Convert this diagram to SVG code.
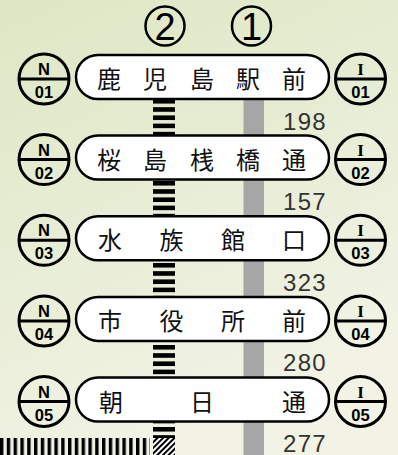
<svg xmlns="http://www.w3.org/2000/svg" width="398" height="455" viewBox="0 0 398 455">
<style>
.box{fill:#fff;stroke:#000;stroke-width:2.5}
.badge circle{fill:none;stroke:#000;stroke-width:3}
.badge line{stroke:#000;stroke-width:3}
.bl{font-family:"Liberation Sans",Arial,sans-serif;font-weight:bold;font-size:16.5px;text-anchor:middle;fill:#000}
.bi{font-family:"Liberation Serif","Times New Roman",serif;font-weight:bold;font-size:17px;text-anchor:middle;fill:#000}
.jp{font-family:"Noto Sans CJK JP",sans-serif;font-size:24px;text-anchor:middle;fill:#111}
.num{font-family:"Liberation Sans",Arial,sans-serif;font-size:24px;letter-spacing:1.3px;fill:#333}
.ln circle{fill:none;stroke:#000;stroke-width:2.5}
.ln text{font-family:"Liberation Sans",Arial,sans-serif;font-size:38px;text-anchor:middle;fill:#000}
</style>
<defs>
<linearGradient id="bg" x1="0" y1="0" x2="0.4" y2="1">
<stop offset="0" stop-color="#dde7c4"/>
<stop offset="1" stop-color="#f2f3e5"/>
</linearGradient>
<pattern id="ladder" patternUnits="userSpaceOnUse" x="153" y="181" width="22" height="8.2">
<rect width="22" height="4.6" fill="#000"/>
</pattern>
<pattern id="vstripe" patternUnits="userSpaceOnUse" x="0" y="0" width="6.8" height="20">
<rect width="3.4" height="20" fill="#000"/>
</pattern>
<pattern id="hatch" patternUnits="userSpaceOnUse" width="4" height="4" patternTransform="rotate(45)">
<rect width="2" height="4" fill="#000"/>
</pattern>
</defs>
<rect width="398" height="455" fill="url(#bg)"/>

<g id="connectors">
<rect x="243.5" y="97" width="20.5" height="358" fill="#a6a6a6"/>
<rect x="153" y="99" width="22" height="339" fill="url(#ladder)"/>
<rect x="0" y="438" width="150" height="17" fill="url(#vstripe)"/>
<rect x="153" y="438" width="22" height="17" fill="#fff"/>
<rect x="153" y="438" width="22" height="17" fill="url(#hatch)"/>
</g>

<g id="line2" class="ln"><circle cx="165" cy="26" r="19.5"/><text x="165" y="40">2</text></g>
<g id="line1" class="ln"><circle cx="251.5" cy="26" r="19.5"/><text x="251.5" y="40">1</text></g>

<g id="distances">
<text class="num" x="283" y="129.5">198</text>
<text class="num" x="283" y="210">157</text>
<text class="num" x="283" y="290.5">323</text>
<text class="num" x="283" y="371">280</text>
<text class="num" x="283" y="451.5">277</text>
</g>

<g id="station1">
<rect class="box" x="76" y="55" width="253" height="44" rx="22"/>
<text class="jp" y="88"><tspan x="109">鹿</tspan><tspan x="155">児</tspan><tspan x="202">島</tspan><tspan x="248">駅</tspan><tspan x="294">前</tspan></text>
<g class="badge"><circle cx="44" cy="79" r="25"/><line x1="19" y1="79" x2="69" y2="79"/><text class="bl" x="44" y="75">N</text><text class="bl" x="44" y="98">01</text></g>
<g class="badge"><circle cx="360.5" cy="79" r="25"/><line x1="335.5" y1="79" x2="385.5" y2="79"/><text class="bi" x="360.5" y="75">I</text><text class="bl" x="360.5" y="98">01</text></g>
</g>

<g id="station2">
<rect class="box" x="76" y="135.6" width="253" height="44" rx="22"/>
<text class="jp" y="168.6"><tspan x="109">桜</tspan><tspan x="155">島</tspan><tspan x="202">桟</tspan><tspan x="248">橋</tspan><tspan x="294">通</tspan></text>
<g class="badge"><circle cx="44" cy="159.6" r="25"/><line x1="19" y1="159.6" x2="69" y2="159.6"/><text class="bl" x="44" y="155.6">N</text><text class="bl" x="44" y="178.6">02</text></g>
<g class="badge"><circle cx="360.5" cy="159.6" r="25"/><line x1="335.5" y1="159.6" x2="385.5" y2="159.6"/><text class="bi" x="360.5" y="155.6">I</text><text class="bl" x="360.5" y="178.6">02</text></g>
</g>

<g id="station3">
<rect class="box" x="76" y="216.3" width="253" height="44" rx="22"/>
<text class="jp" y="249.3"><tspan x="110">水</tspan><tspan x="171.5">族</tspan><tspan x="233">館</tspan><tspan x="294">口</tspan></text>
<g class="badge"><circle cx="44" cy="240.3" r="25"/><line x1="19" y1="240.3" x2="69" y2="240.3"/><text class="bl" x="44" y="236.3">N</text><text class="bl" x="44" y="259.3">03</text></g>
<g class="badge"><circle cx="360.5" cy="240.3" r="25"/><line x1="335.5" y1="240.3" x2="385.5" y2="240.3"/><text class="bi" x="360.5" y="236.3">I</text><text class="bl" x="360.5" y="259.3">03</text></g>
</g>

<g id="station4">
<rect class="box" x="76" y="296.9" width="253" height="44" rx="22"/>
<text class="jp" y="329.9"><tspan x="110">市</tspan><tspan x="171.5">役</tspan><tspan x="233">所</tspan><tspan x="294">前</tspan></text>
<g class="badge"><circle cx="44" cy="320.9" r="25"/><line x1="19" y1="320.9" x2="69" y2="320.9"/><text class="bl" x="44" y="316.9">N</text><text class="bl" x="44" y="339.9">04</text></g>
<g class="badge"><circle cx="360.5" cy="320.9" r="25"/><line x1="335.5" y1="320.9" x2="385.5" y2="320.9"/><text class="bi" x="360.5" y="316.9">I</text><text class="bl" x="360.5" y="339.9">04</text></g>
</g>

<g id="station5">
<rect class="box" x="76" y="377.5" width="253" height="44" rx="22"/>
<text class="jp" y="410.5"><tspan x="111">朝</tspan><tspan x="202">日</tspan><tspan x="294">通</tspan></text>
<g class="badge"><circle cx="44" cy="401.5" r="25"/><line x1="19" y1="401.5" x2="69" y2="401.5"/><text class="bl" x="44" y="397.5">N</text><text class="bl" x="44" y="420.5">05</text></g>
<g class="badge"><circle cx="360.5" cy="401.5" r="25"/><line x1="335.5" y1="401.5" x2="385.5" y2="401.5"/><text class="bi" x="360.5" y="397.5">I</text><text class="bl" x="360.5" y="420.5">05</text></g>
</g>
</svg>
